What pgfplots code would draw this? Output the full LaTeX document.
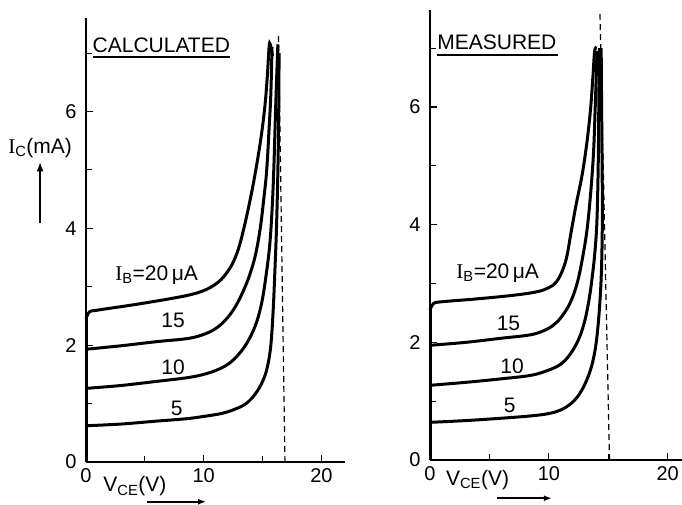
\documentclass[border=0pt]{standalone}
\usepackage{pgfplots}
\pgfplotsset{compat=1.18}
\usepackage{fontspec}
\setmainfont{Liberation Sans}
\newfontfamily\serifI{Liberation Serif}
\usetikzlibrary{arrows.meta}
\pgfplotsset{
  chartstyle/.style={
    scale only axis, clip=false,
    axis lines*=left,
    axis line style={line width=2.2pt, black},
    xmin=0, ymin=0,
    xtick={0,10,20}, minor xtick={5,15},
    ytick={0,2,4,6}, minor ytick={1,3,5,7},
    tick align=inside,
    major tick length=7pt, minor tick length=6pt,
    every tick/.style={line width=1.1pt, black},
    tick label style={font=\fontsize{20}{24}\selectfont},
    /pgf/number format/assume math mode=true,
    xticklabel style={yshift=-3pt},
    yticklabel style={xshift=-6pt},
  },
  curve/.style={line width=3pt, black, smooth, tension=0.6},
}
\begin{document}
\begin{tikzpicture}[font=\fontsize{21}{24}\selectfont]
\useasboundingbox (0,0) rectangle (682pt,505pt);
% ---------------- left: CALCULATED ----------------
\begin{axis}[chartstyle, at={(86pt,43pt)}, anchor=south west,
  width=259pt, height=444pt, xmax=22, ymax=7.6]
\addplot[line width=3pt, black] coordinates {(0,0) (0,2.5)};
\addplot[curve] coordinates {(0,2.45) (0.3,2.57) (1,2.6) (4,2.69) (7,2.79) (9,2.87) (10.3,2.96) (11.3,3.09) (12.0,3.25) (12.5,3.42) (12.95,3.65) (13.35,3.95) (13.8,4.35) (14.2,4.75) (14.55,5.15) (14.9,5.6) (15.2,6.1) (15.4,6.6) (15.55,7.1) (15.65,7.15) (15.85,6.95)};
\addplot[curve] coordinates {(0,1.93) (3,1.99) (6,2.06) (8.5,2.11) (9.8,2.17) (10.9,2.27) (11.8,2.42) (12.6,2.63) (13.3,2.9) (13.9,3.2) (14.4,3.55) (14.8,4.0) (15.1,4.5) (15.35,5.0) (15.55,5.7) (15.7,6.3) (15.8,7.1)};
\addplot[curve] coordinates {(0,1.26) (3,1.31) (6,1.38) (8.5,1.44) (10,1.5) (11.3,1.59) (12.3,1.71) (13.2,1.9) (13.9,2.12) (14.5,2.4) (14.95,2.75) (15.3,3.2) (15.6,3.7) (15.8,4.3) (15.95,5.0) (16.1,6.0) (16.25,6.9) (16.3,7.15)};
\addplot[curve] coordinates {(0,0.62) (3,0.65) (6,0.7) (8.5,0.74) (10,0.78) (11.5,0.83) (12.6,0.9) (13.6,1.0) (14.4,1.17) (15.0,1.38) (15.4,1.62) (15.7,2.0) (15.9,2.6) (16.05,3.3) (16.18,4.0) (16.3,5.0) (16.37,6.0) (16.4,7.0)};
\addplot[black, line width=1.2pt, dash pattern=on 6pt off 4pt] coordinates {(16.9,0) (16.35,7.35)};
\node[anchor=west, inner sep=0pt] at (axis cs:0.55,7.13) {CALCULATED};
\draw[line width=1.8pt] (axis cs:0.6,6.93) -- (axis cs:12.2,6.93);
\node at (axis cs:6.0,3.2) {{\serifI I}\textsubscript{B}=20\,μA};
\node at (axis cs:7.4,2.42) {15};
\node at (axis cs:7.4,1.62) {10};
\node at (axis cs:7.7,0.92) {5};
\node at (axis cs:-3.9,5.37) {{\serifI I}\textsubscript{C}(mA)};
\draw[line width=1.2pt, -{Latex[length=9pt,width=7pt]}] (axis cs:-3.9,4.09) -- (axis cs:-3.9,5.13);
\node at (axis cs:4.15,-0.42) {V\textsubscript{CE}(V)};
\draw[line width=1.8pt, -{Latex[length=8pt,width=6pt]}] (axis cs:5.2,-0.68) -- (axis cs:10.2,-0.68);
\end{axis}
% ---------------- right: MEASURED ----------------
\begin{axis}[chartstyle, at={(430pt,45pt)}, anchor=south west,
  width=252pt, height=450pt, xmax=21.2, ymax=7.65]
\addplot[line width=3pt, black] coordinates {(0,0) (0,2.6)};
\addplot[curve] coordinates {(0,2.55) (0.3,2.66) (1,2.69) (4,2.74) (7,2.8) (9,2.86) (10,2.93) (10.6,3.02) (11.1,3.2) (11.5,3.45) (11.85,3.85) (12.3,4.35) (12.8,4.85) (13.2,5.4) (13.5,5.95) (13.7,6.5) (13.85,6.95) (14.0,7.0)};
\addplot[curve] coordinates {(0,1.95) (3,2.0) (6,2.07) (8.5,2.13) (9.8,2.22) (10.6,2.33) (11.3,2.5) (11.9,2.72) (12.4,3.02) (12.8,3.4) (13.2,3.9) (13.5,4.5) (13.75,5.2) (13.9,6.0) (14.05,6.95)};
\addplot[curve] coordinates {(0,1.27) (3,1.32) (6,1.38) (8.5,1.44) (10,1.53) (11,1.63) (11.8,1.8) (12.5,2.05) (13.0,2.35) (13.4,2.75) (13.7,3.2) (13.9,3.6) (14.05,4.1) (14.15,5.0) (14.2,6.0) (14.25,7.0)};
\addplot[curve] coordinates {(0,0.64) (3,0.67) (6,0.71) (8.5,0.75) (10,0.79) (11,0.85) (11.8,0.95) (12.5,1.1) (13.1,1.32) (13.6,1.6) (13.95,1.95) (14.2,2.43) (14.38,3.0) (14.47,3.6) (14.5,4.3) (14.47,5.2) (14.43,6.2) (14.4,7.0)};
\addplot[black, line width=1.2pt, dash pattern=on 6pt off 4pt] coordinates {(15.1,0) (14.3,7.6)};
\node[anchor=west, inner sep=0pt] at (axis cs:0.6,7.1) {MEASURED};
\draw[line width=1.8pt] (axis cs:0.6,6.88) -- (axis cs:10.8,6.88);
\node at (axis cs:5.7,3.18) {{\serifI I}\textsubscript{B}=20\,μA};
\node at (axis cs:6.6,2.33) {15};
\node at (axis cs:6.9,1.6) {10};
\node at (axis cs:6.7,0.93) {5};
\node at (axis cs:4.0,-0.34) {V\textsubscript{CE}(V)};
\draw[line width=1.8pt, -{Latex[length=8pt,width=6pt]}] (axis cs:5.6,-0.65) -- (axis cs:10.25,-0.65);
\end{axis}
\end{tikzpicture}
\end{document}
